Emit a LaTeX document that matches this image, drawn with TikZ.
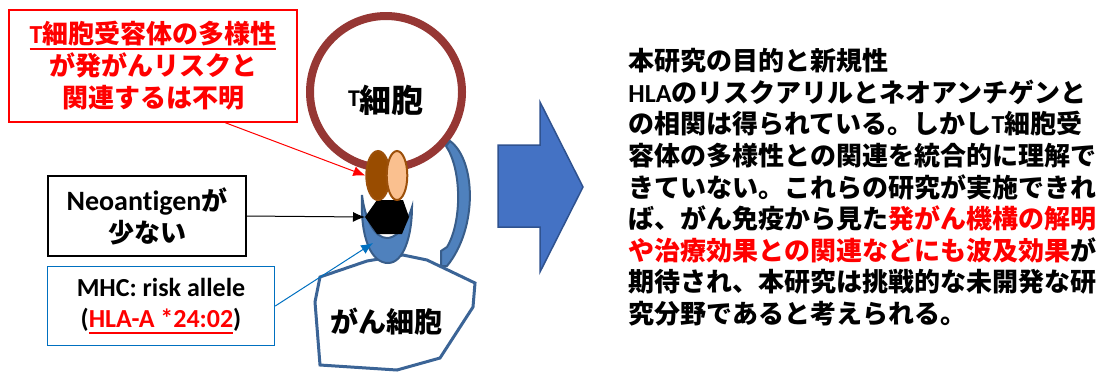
\documentclass[tikz,border=0pt]{standalone}
\usepackage{fontspec}
\setmainfont{Noto Sans CJK JP}
\newfontfamily\latin{Carlito}[Ligatures={NoCommon,NoDiscretionary,NoContextual}]
\usetikzlibrary{shapes.geometric,arrows.meta,calc}

\definecolor{tcell}{RGB}{150,55,52}
\definecolor{tcrdark}{RGB}{153,76,0}
\definecolor{tcrlight}{RGB}{250,192,143}
\definecolor{tcredge}{RGB}{156,80,10}
\definecolor{mhcfill}{RGB}{79,129,189}
\definecolor{mhcedge}{RGB}{56,93,138}
\definecolor{cancer}{RGB}{59,100,150}
\definecolor{bigarrow}{RGB}{68,114,196}
\definecolor{bigarrowedge}{RGB}{47,82,143}
\definecolor{hlablue}{RGB}{0,112,192}

\newcommand\ulbar[1]{\setbox0\hbox{#1}\rlap{\raisebox{-3pt}{\rule{\wd0}{1pt}}}\box0}

\begin{document}
\begin{tikzpicture}[
x=0.5pt,y=-0.5pt,
every node/.style={
inner sep=0pt,
align=center,
font=\bfseries\fontsize{13}{16}\selectfont
},
notebox/.style={
draw,
line width=0.75pt
},
tcr/.style={
ellipse,
draw=tcredge,
line width=1pt,
minimum height=24.5pt
},
pointer/.style={
-{Latex[length=6pt,width=5pt]},
line width=0.5pt
}
]

\useasboundingbox (0,0) rectangle (1106,371);

\node[circle,draw=tcell,line width=4pt,minimum size=76pt] (tcell) at (386,92) {};
\node (tlabel) at (386,100) {\fontsize{16}{16}\selectfont{\latin\fontsize{12}{12}\selectfont\raisebox{3pt}{T}}細胞};

\fill[mhcfill,draw=mhcedge,line width=1pt]
(450,141) .. controls (476,160) and (478,228) .. (447,266)
-- (441,266) -- (441,251) -- (447,247)
.. controls (462,222) and (462,170) .. (446,146) -- cycle;

\draw[cancer,fill=white,line width=1.5pt]
(320,277) -- (367,261) -- (403,255) -- (427,260) -- (475,283)
-- (473,307) -- (440,358) -- (397,370) -- (320,365) -- (315,302) -- cycle;
\node (clabel) at (386,322) {\fontsize{14}{14}\selectfont がん細胞};

\fill[mhcfill,draw=mhcedge,line width=1pt]
(362,195) .. controls (360,240) and (372,263) .. (388,263)
.. controls (404,263) and (412,235) .. (412,207)
.. controls (405,230) and (395,238) .. (387,238)
.. controls (375,238) and (365,220) .. (362,195) -- cycle;

\fill (365,217) -- (377,200) -- (403,200) -- (409,217) -- (402,234) -- (377,234) -- cycle;
\coordinate (hexw) at (365,217);
\coordinate (mhctip) at (373,243);

\node[tcr,fill=tcrdark,minimum width=11.7pt] (tcra) at (378,175.5) {};
\node[tcr,fill=tcrlight,minimum width=10.3pt] (tcrb) at (397,175.5) {};

\node[notebox,draw=red,text=red,minimum width=144pt,minimum height=56pt] (risk) at (153,66)
{\ulbar{{\latin T}細胞受容体の多様性}\\が発がんリスクと\\関連するは不明};
\node[notebox,minimum width=99pt,minimum height=40pt] (neo) at (147,216)
{{\latin\fontsize{14}{16}\selectfont Neoantigen}が\\少ない};
\node[notebox,draw=hlablue,minimum width=113.5pt,minimum height=39.5pt,
font=\latin\bfseries\fontsize{13}{15.5}\selectfont] (mhc) at (161,306)
{MHC: risk allele\\(\textcolor{red}{\ulbar{HLA-A *24:02}})};

\draw[pointer,red] ($(risk.south)!0.5!(risk.south east)$) -- (tcra.west);
\draw[pointer,black] (neo.east) -- (hexw);
\draw[pointer,hlablue] (mhc.east) -- (mhctip);

\fill[bigarrow,draw=bigarrowedge,line width=0.75pt]
(498,145) -- (540,145) -- (540,102) -- (583,187) -- (540,272) -- (540,227) -- (498,227) -- cycle;

\node[anchor=north west,align=left,font=\bfseries\fontsize{13}{15.8}\selectfont] (aim) at (628,48)
{本研究の目的と新規性\\
{\latin HLA}のリスクアリルとネオアンチゲンと\\
の相関は得られている。しかし{\latin T}細胞受\\
容体の多様性との関連を統合的に理解で\\
きていない。これらの研究が実施できれ\\
ば、がん免疫から見た{\color{red}発がん機構の解明}\\
{\color{red}や治療効果との関連などにも波及効果}が\\
期待され、本研究は挑戦的な未開発な研\\
究分野であると考えられる。};

\end{tikzpicture}
\end{document}
